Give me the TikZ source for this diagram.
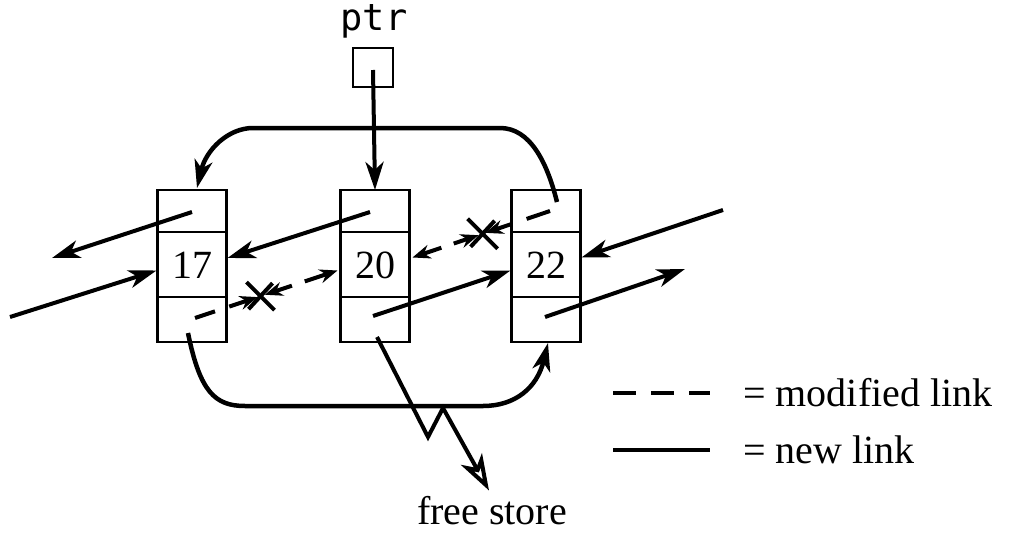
\documentclass[tikz,border=0pt]{standalone}
\usepackage{fontspec}
\setmainfont{Liberation Serif}
\newfontfamily\ptrfont{DejaVu Sans Mono}
\usetikzlibrary{arrows.meta,calc}
\begin{document}
\begin{tikzpicture}[x=1pt,y=-1pt,
  cell/.style={draw, line width=2.5pt, minimum width=69pt, inner sep=0pt, outer sep=0pt},
  lnk/.style={line width=4pt, -{Stealth[length=28pt,width=18pt,inset=8pt]}},
  dln/.style={line width=4pt},
  dtip/.style={line width=4pt, -{Stealth[length=18pt,width=14pt,inset=6pt]}},
  crv/.style={line width=4.5pt},
  lbl/.style={font=\fontsize{40}{42}\selectfont, inner sep=0pt}]
\useasboundingbox (0,0) rectangle (1009,535);

% list elements
\foreach \n/\x/\v in {17/192/17, 20/375/20, 22/546/22}{
  \node[cell, minimum height=42pt] (t\n) at (\x,211) {};
  \node[cell, minimum height=65pt] (m\n) at (\x,264.5) {};
  \node[cell, minimum height=45pt] (b\n) at (\x,319.5) {};
  \node[lbl] (v\n) at (\x,265) {\v};
}

% ptr
\node[font=\ptrfont\fontsize{37}{39}\selectfont, inner sep=0pt] (ptrlbl) at (374,21) {ptr};
\node[draw, line width=2.5pt, minimum width=40pt, minimum height=39pt, inner sep=0pt] (ptr) at (373,67.5) {};
\coordinate (ps) at (373,70);
\draw[lnk] (ps) -- (t20.north);

% top curve: 22.next -> 17
\coordinate (tc) at (557,202);
\draw[crv, -{Stealth[length=28pt,width=18pt,inset=8pt]}]
  (tc) .. controls (547,162) and (530,128) .. (500,128) -- (253,128)
  .. controls (228,128) and (206,150) .. (197,188);

% bottom curve: 17.prev <- 22
\coordinate (bc) at (188,333);
\draw[crv, -{Stealth[length=28pt,width=18pt,inset=8pt]}]
  (bc) .. controls (200,392) and (215,406) .. (245,406) -- (483,406)
  .. controls (515,406) and (537,388) .. (548,343);

% solid links
\coordinate (s1) at (192,212); \coordinate (e1) at (52,258);
\draw[lnk] (s1) -- (e1);
\coordinate (s2) at (10,317); \coordinate (e2) at ($(m17.west)+(-1,6)$);
\draw[lnk] (s2) -- (e2);
\coordinate (s3) at (370,212); \coordinate (e3) at ($(m17.east)+(1,-6.5)$);
\draw[lnk] (s3) -- (e3);
\coordinate (s4) at (373,316); \coordinate (e4) at ($(m22.west)+(-1,6)$);
\draw[lnk] (s4) -- (e4);
\coordinate (s5) at (723,210); \coordinate (e5) at ($(m22.east)+(1,-7)$);
\draw[lnk] (s5) -- (e5);
\coordinate (s6) at (545,317); \coordinate (e6) at (685,269);
\draw[lnk] (s6) -- (e6);

% modified link 17 -> 20 (crossed)
\coordinate (a1) at (195,318); \coordinate (z1) at ($(m20.west)+(-3,6)$);
\draw[dln] (a1) -- ($(a1)!0.14!(z1)$);
\draw[dtip] ($(a1)!0.24!(z1)$) -- ($(a1)!0.44!(z1)$);
\draw[dtip] ($(a1)!0.68!(z1)$) -- ($(a1)!0.49!(z1)$);
\draw[dtip] ($(a1)!0.77!(z1)$) -- (z1);
\coordinate (x1) at ($(a1)!0.46!(z1)$);
\draw[dln] ($(x1)+(-14,-14)$) -- ($(x1)+(14,14)$);
\draw[dln] ($(x1)+(-12,13)$) -- ($(x1)+(12,-13)$);

% modified link 22 -> 20 (crossed)
\coordinate (a2) at (550,211); \coordinate (z2) at ($(m20.east)+(3,-7)$);
\draw[dln] (a2) -- ($(a2)!0.17!(z2)$);
\draw[dtip] ($(a2)!0.28!(z2)$) -- ($(a2)!0.47!(z2)$);
\draw[dtip] ($(a2)!0.70!(z2)$) -- ($(a2)!0.52!(z2)$);
\draw[dtip] ($(a2)!0.79!(z2)$) -- (z2);
\coordinate (x2) at ($(a2)!0.49!(z2)$);
\draw[dln] ($(x2)+(-15,-15)$) -- ($(x2)+(15,15)$);
\draw[dln] ($(x2)+(-12,13)$) -- ($(x2)+(12,-13)$);

% free store
\node[lbl] (fs) at (492,511) {free store};
\coordinate (f0) at (377,337);
\draw[line width=4pt, line join=miter, -{Stealth[open,length=36pt,width=24pt,inset=10pt,line width=4pt]}]
  (f0) -- (428,437) -- (443,408) -- ($(fs.north)+(-3,-6)$);

% legend
\coordinate (l1a) at (613,393); \coordinate (l1b) at (710,393);
\draw[line width=4pt, dash pattern=on 23pt off 15pt] (l1a) -- (l1b);
\node[lbl, anchor=west] (leg1) at (743,393) {= modified link};
\coordinate (l2a) at (613,450); \coordinate (l2b) at (710,450);
\draw[line width=4pt] (l2a) -- (l2b);
\node[lbl, anchor=west] (leg2) at (743,450) {= new link};
\end{tikzpicture}
\end{document}
